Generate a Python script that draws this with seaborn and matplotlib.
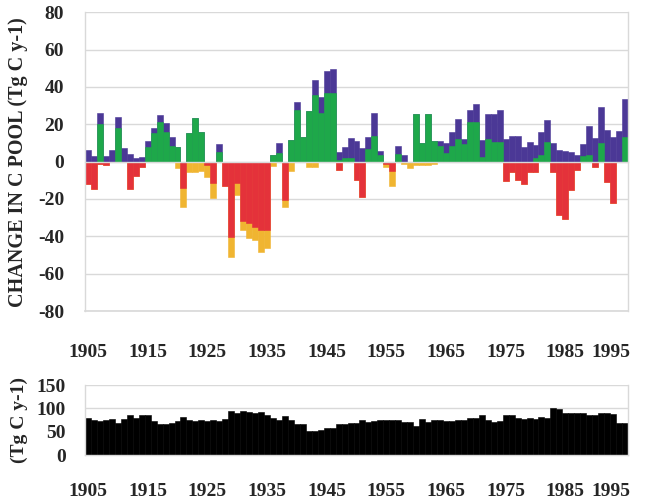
import matplotlib
matplotlib.use("Agg")
import matplotlib.pyplot as plt
import matplotlib.transforms as mtransforms
import pandas as pd
import seaborn as sns

# ---- data -------------------------------------------------------------
years = list(range(1905, 1996))

# positive components of the annual change in the carbon pool (Tg C / yr)
green = [0, 0, 20, 0, 0, 18, 0, 0, 0, 0,
         8, 15.5, 21.4, 16, 8.4, 8, 0, 15.5, 23.2, 16,
         0, 0, 5, 0, 0, 0, 0, 0, 0, 0,
         0, 3.5, 4.5, 0, 11.6, 27.7, 13, 27.3, 35.7, 26,
         37, 37, 1, 2, 2, 0, 0, 7, 13.5, 3.5,
         0, 0, 4, 0, 0, 25.5, 9.8, 25.5, 11, 8.4,
         4.7, 8.4, 12, 9.5, 21.4, 21, 2.7, 12, 10.7, 10.7,
         0, 0, 0, 0, 0, 2, 3.3, 10.5, 0, 0,
         0, 0, 0, 3.2, 3.8, 0, 9.8, 0, 0, 0,
         13]
purple = [6, 3, 6, 3, 6, 6, 7.5, 4, 2, 2.7,
          3, 2.4, 3.6, 4.5, 4.6, 0, 0, 0, 0, 0,
          0, 0, 4.3, 0, 0, 0, 0, 0, 0, 0,
          0, 0, 5.5, 0, 0, 4, 0, 0, 8.3, 8.8,
          11.8, 12.5, 4, 5.7, 10.5, 11, 7.5, 6, 12.8, 2.2,
          0, 0, 4.5, 3.6, 0, 0, 0, 0, 0, 2.8,
          5.1, 7.6, 10.7, 2.5, 6, 10, 8.9, 13.5, 14.8, 16.8,
          12.3, 13.8, 13.8, 7.8, 10.7, 7, 12.7, 11.7, 9.8, 6.4,
          5.8, 5, 3.8, 6.1, 15.2, 12.8, 19.7, 16.8, 13.4, 16.6,
          20.6]

# negative components
red = [-12, -14.8, -1, -2, 0, 0, 0, -14.8, -7.7, -3,
       0, 0, 0, 0, 0, 0, -14.3, 0, 0, 0,
       -2, -11.6, 0, -13, -40.2, -11.6, -32, -33, -35, -36.6,
       -36.6, 0, 0, -20.5, 0, 0, 0, 0, 0, 0,
       0, 0, -4.5, 0, 0, -9.8, -18.75, 0, 0, 0,
       -1, -5, 0, 0, 0, 0, 0, 0, 0, 0,
       0, 0, 0, 0, 0, 0, 0, 0, 0, 0,
       -10.2, -5.4, -9.6, -12, -5.8, -5.4, 0, 0, -5.6, -28.8,
       -30.6, -15, -4.5, 0, 0, -3, 0, -11, -22.3, 0,
       0]
orange = [0, 0, 0, 0, 0, 0, 0, 0, 0, 0,
          0, 0, 0, 0, 0, -3.6, -10, -5.4, -5.4, -4.8,
          -6, -8, 0, 0, -10.7, -6.3, -4.5, -8, -7, -12,
          -9.8, -2.5, 0, -3.6, -5, 0, 0, -3, -3, 0,
          0, 0, 0, 0, 0, 0, 0, 0, 0, 0,
          -2, -8.2, 0, -1, -3.6, -2, -2, -2, -1.5, 0,
          0, 0, 0, 0, 0, 0, 0, 0, 0, 0,
          0, 0, 0, 0, 0, 0, 0, 0, 0, 0,
          0, 0, 0, 0, 0, 0, 0, 0, 0, 0,
          0]

# annual flux shown in the lower panel (Tg C / yr)
flux = [79, 76, 72, 76, 78, 69, 78, 85, 79, 85,
        85, 73, 67, 67, 68.5, 73, 81.5, 76, 73, 76,
        73, 76, 72, 78, 94, 89, 94, 92, 90, 92,
        86.5, 79, 76, 83, 74, 66, 67, 51, 51, 54,
        57, 58.5, 67, 66, 68.5, 69, 74, 71, 73, 76,
        76, 74, 74, 71, 71, 63, 77, 71, 74, 74,
        73, 73, 74, 76, 80, 79, 86.5, 74, 71, 73,
        86.5, 85, 79, 78, 79, 78, 81.5, 80, 101.5, 99.5,
        89, 89, 90, 90, 86.5, 85, 89, 89, 88, 69,
        69]

year_labels = [str(y) for y in range(1905, 1996, 10)]

# ---- styling ----------------------------------------------------------
PURPLE = "#4b3896"
GREEN = "#1ea84a"
RED = "#e4323a"
ORANGE = "#f0b531"
GRID = "#d9d9d9"

sns.set_theme(style="white")
plt.rcParams["font.family"] = ["Liberation Serif", "DejaVu Serif"]
plt.rcParams["font.weight"] = "bold"
plt.rcParams["axes.unicode_minus"] = False

W, H = 649, 500
fig = plt.figure(figsize=(W / 100, H / 100), dpi=100)
ax = fig.add_axes([85 / W, 1 - 311 / H, (628 - 85) / W, (311 - 12.3) / H])
ax2 = fig.add_axes([85 / W, 1 - 455 / H, (628 - 85) / W, 70 / H])

df = pd.DataFrame({"year": years, "green": green, "purple": purple,
                   "red": red, "orange": orange, "flux": flux})
df["pos_total"] = df["green"] + df["purple"]
df["neg_total"] = df["red"] + df["orange"]


def bars(axis, col, color):
    sns.barplot(data=df, x="year", y=col, color=color, ax=axis, width=1.0,
                saturation=1, errorbar=None, linewidth=0.4, edgecolor=color)


# stacked bars: totals first, lower segment drawn over them
bars(ax, "pos_total", PURPLE)
bars(ax, "green", GREEN)
bars(ax, "neg_total", ORANGE)
bars(ax, "red", RED)
bars(ax2, "flux", "black")

n = len(years)
label_pos = list(range(0, n, 10))


def pull_last_label(labels):
    # keep the final year label inside the figure edge
    last = [t for t in labels if t.get_text()][-1]
    last.set_horizontalalignment("right")
    last.set_transform(last.get_transform() +
                       mtransforms.ScaledTranslation(4 / 72, 0, fig.dpi_scale_trans))


# ---- upper panel axes -------------------------------------------------
ax.set_xlim(-0.5, n - 0.5)
ax.set_ylim(-80, 80)
ax.set_yticks(range(-80, 81, 20))
ax.set_axisbelow(True)
ax.yaxis.grid(True, color=GRID, linewidth=1)
ax.xaxis.grid(False)
ax.set_xlabel("")
ax.set_ylabel("")
for s in ax.spines.values():
    s.set_color(GRID)
    s.set_linewidth(1)
ax.spines["top"].set_visible(False)
ax.spines["bottom"].set_position(("data", 0))
ax.set_xticks(range(n))
ax.set_xticklabels([""] * n)
ax.tick_params(axis="x", length=3, color=GRID, direction="out")
ax.tick_params(axis="y", length=3, color=GRID, labelsize=14, pad=12)
for t in ax.get_yticklabels():
    t.set_fontweight("bold")

sec = ax.secondary_xaxis(0.0)
sec.set_xticks(label_pos, labels=year_labels)
sec.tick_params(length=0, pad=24, labelsize=14)
sec.spines["bottom"].set_color(GRID)
for t in sec.get_xticklabels():
    t.set_fontweight("bold")
pull_last_label(sec.get_xticklabels())

# ---- lower panel axes -------------------------------------------------
ax2.set_xlim(-0.5, n - 0.5)
ax2.set_ylim(0, 150)
ax2.set_yticks([0, 50, 100, 150])
ax2.set_axisbelow(True)
ax2.yaxis.grid(True, color=GRID, linewidth=1)
ax2.xaxis.grid(False)
ax2.set_xlabel("")
ax2.set_ylabel("")
for s in ax2.spines.values():
    s.set_color(GRID)
    s.set_linewidth(1)
ax2.spines["top"].set_visible(False)
ax2.set_xticks(range(n))
ax2.set_xticklabels([year_labels[i // 10] if i % 10 == 0 else "" for i in range(n)])
ax2.tick_params(axis="x", length=3, color=GRID, direction="out", labelsize=14, pad=17)
ax2.tick_params(axis="y", length=3, color=GRID, labelsize=14, pad=11)
for t in ax2.get_xticklabels() + ax2.get_yticklabels():
    t.set_fontweight("bold")
pull_last_label(ax2.get_xticklabels())

# ---- axis titles ------------------------------------------------------
fig.text(18 / W, 1 - 162 / H, "CHANGE IN C POOL (Tg C y-1)", rotation=90,
         ha="center", va="center", fontsize=14.5, fontweight="bold")
fig.text(19 / W, 1 - 420 / H, "(Tg C y-1)", rotation=90,
         ha="center", va="center", fontsize=14, fontweight="bold")

fig.savefig("out.png", dpi=100, facecolor="white")
